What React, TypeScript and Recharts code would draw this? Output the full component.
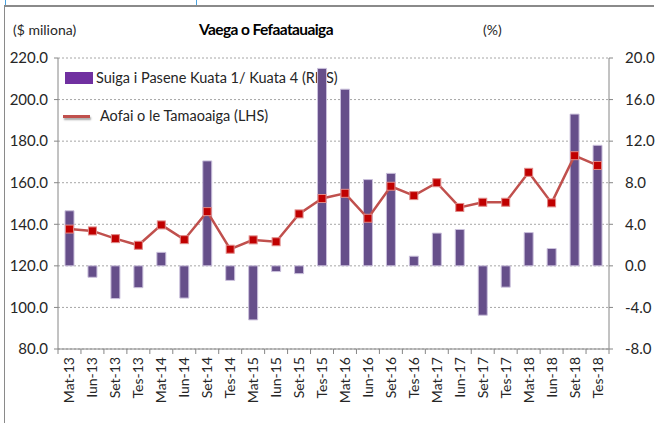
import React from 'react';
import { ComposedChart, Bar, Line, XAxis, YAxis, CartesianGrid } from 'recharts';

const categories = ['Mat-13','Iun-13','Set-13','Tes-13','Mat-14','Iun-14','Set-14','Tes-14','Mat-15','Iun-15','Set-15','Tes-15','Mat-16','Iun-16','Set-16','Tes-16','Mat-17','Iun-17','Set-17','Tes-17','Mat-18','Iun-18','Set-18','Tes-18'];
const pctChange = [5.3,-1.1,-3.15,-2.1,1.3,-3.1,10.1,-1.4,-5.2,-0.55,-0.75,19.0,17.0,8.3,8.9,0.93,3.15,3.5,-4.75,-2.05,3.2,1.67,14.6,11.6];
const totalTrade = [137.7,136.8,133.1,129.9,139.7,132.6,146.1,128.0,132.5,131.6,145.0,152.4,154.9,142.9,158.3,153.8,160.0,148.1,150.6,150.6,165.0,150.3,173.0,168.3];
const leftTicks = [80,100,120,140,160,180,200,220];
const rightTicks = [-8,-4,0,4,8,12,16,20];

const data = categories.map((c, i) => ({ cat: c, chg: pctChange[i], total: totalTrade[i] }));

const FONT = 'Lato, "Liberation Sans", sans-serif';
const W = 658, H = 423;
const PLOT_L = 58, PLOT_R = 609;
const BAND = (PLOT_R - PLOT_L) / categories.length;

const XTick = (props: any) => {
  const { x, y, payload, index } = props;
  const last = index === categories.length - 1;
  return (
    <g>
      <line x1={x - BAND / 2} x2={x - BAND / 2} y1={y} y2={y + 5} stroke="#868686" />
      {last && <line x1={x + BAND / 2} x2={x + BAND / 2} y1={y} y2={y + 5} stroke="#868686" />}
      <g transform={`translate(${x},${y})`}>
        <text transform="rotate(-90)" x={-8} y={5} textAnchor="end" fontFamily={FONT} fontSize={14} fill="#262626">
          {payload.value}
        </text>
      </g>
    </g>
  );
};

const SquareDot = (props: any) => {
  const { cx, cy } = props;
  if (cx == null || cy == null) return null;
  return <rect x={cx - 4} y={cy - 4} width={8} height={8} fill="#c00000" stroke="#e08a88" strokeWidth={1} />;
};

export default function App() {
  return (
    <div style={{ position: 'absolute', left: 0, top: 0, width: W, height: H, background: '#fff', overflow: 'hidden' }}>
      <div style={{ position: 'absolute', left: 4, top: 5, width: 650, height: 500, borderLeft: '1px solid #8a8a8a', borderTop: '2px solid #8a8a8a', boxSizing: 'border-box' }} />
      <div style={{ position: 'absolute', left: 5, top: 0, width: 1, height: 5, background: '#4aa3e0' }} />
      <div style={{ position: 'absolute', left: 196, top: 0, width: 1, height: 5, background: '#4aa3e0' }} />
      <div style={{ position: 'absolute', left: 13, top: 21, fontFamily: FONT, fontSize: 14, color: '#262626' }}>($ miliona)</div>
      <div style={{ position: 'absolute', left: 483, top: 21, fontFamily: FONT, fontSize: 14, color: '#262626' }}>(%)</div>
      <div style={{ position: 'absolute', left: 0, width: 532, top: 20, textAlign: 'center', fontFamily: FONT, fontSize: 15.5, letterSpacing: -0.6, fontWeight: 'bold', color: '#000' }}>Vaega o Fefaatauaiga</div>
      <div style={{ position: 'absolute', left: 65, top: 72, width: 28, height: 12, background: '#7030a0' }} />
      <div style={{ position: 'absolute', left: 96, top: 69, fontFamily: FONT, fontSize: 14.5, color: '#262626', whiteSpace: 'nowrap' }}>Suiga i Pasene Kuata 1/ Kuata 4 (RHS)</div>
      <div style={{ position: 'absolute', left: 63, top: 115, width: 27, height: 3, background: '#c0504d', boxShadow: '1px 2px 2px rgba(0,0,0,0.35)' }} />
      <div style={{ position: 'absolute', left: 100, top: 107, fontFamily: FONT, fontSize: 14.5, color: '#262626', whiteSpace: 'nowrap' }}>Aofai o le Tamaoaiga (LHS)</div>
      <div style={{ position: 'absolute', left: 0, top: 0 }}>
        <ComposedChart width={W} height={H} data={data} margin={{ top: 58, right: 0, bottom: 0, left: 0 }} barCategoryGap={0}>
          <CartesianGrid yAxisId="left" vertical={false} stroke="#a6a6a6" strokeDasharray="2 2" />
          <XAxis dataKey="cat" height={74} interval={0} tick={<XTick />} tickLine={false} tickSize={0} tickMargin={0} axisLine={{ stroke: '#868686' }} />
          <YAxis yAxisId="left" orientation="left" width={58} domain={[80, 220]} ticks={leftTicks} tickFormatter={(v: number) => v.toFixed(1)} tick={{ fontFamily: FONT, fontSize: 15, fill: '#262626' }} tickSize={4} tickMargin={6} axisLine={{ stroke: '#868686' }} tickLine={{ stroke: '#868686' }} allowDataOverflow />
          <YAxis yAxisId="right" orientation="right" width={49} domain={[-8, 20]} ticks={rightTicks} tickFormatter={(v: number) => v.toFixed(1)} tick={{ fontFamily: FONT, fontSize: 15, fill: '#262626', textAnchor: 'start' }} tickSize={4} tickMargin={12} axisLine={{ stroke: '#868686' }} tickLine={{ stroke: '#868686' }} allowDataOverflow />
          <Bar yAxisId="right" dataKey="chg" fill="#664f8a" stroke="#cbc1dc" strokeWidth={1} barSize={9} isAnimationActive={false} />
          <Line yAxisId="left" dataKey="total" stroke="#c0504d" strokeWidth={2.5} dot={<SquareDot />} activeDot={false} isAnimationActive={false} />
        </ComposedChart>
      </div>
    </div>
  );
}
